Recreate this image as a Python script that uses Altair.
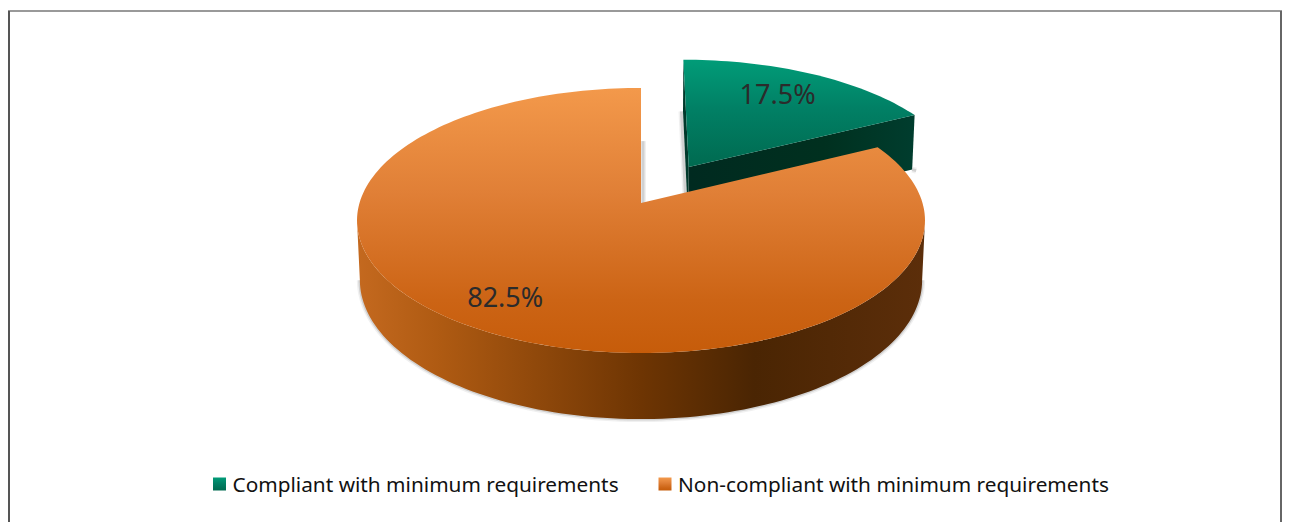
import math
import altair as alt
import pandas as pd

categories = ["Compliant with minimum requirements", "Non-compliant with minimum requirements"]
shares = [17.5, 82.5]
labels = ["17.5%", "82.5%"]
explode = [0.337, 0.0]

W, H = 1274, 514
OX, OY = 8, 8
FONT = "Noto Sans"
P = 0.132


def proj(u, v, z=0.0):
    w = 1 + P * v + 0.01 * z
    return 641 + 281.5 * u / w, 203 - (130.2 * v - 59.5 * z) / w


def angles(a0, a1, step=1.5):
    n = max(2, int(abs(a1 - a0) / step))
    return [a0 + (a1 - a0) * i / n for i in range(n + 1)]


def world(a, r=1.0, mid=0.0, d=0.0):
    t, m = math.radians(a), math.radians(mid)
    return d * math.sin(m) + r * math.sin(t), d * math.cos(m) + r * math.cos(t)


split = shares[0] * 3.6
g_mid, o_mid = split / 2, (split + 360) / 2
gd, od = explode
tangent = math.degrees(math.acos(-P))


def green(a, r=1.0):
    return world(a, r, g_mid, gd)


def orange(a, r=1.0):
    return world(a, r, o_mid, od)


def frame(pts):
    return pd.DataFrame([{"x": p[0], "y": p[1], "i": i} for i, p in enumerate(pts)])


xs = alt.Scale(domain=[OX, OX + W], nice=False, zero=False)
ys = alt.Scale(domain=[OY + H, OY], nice=False, zero=False)


def shape(pts, **mark):
    return alt.Chart(frame(pts)).mark_line(**mark).encode(
        x=alt.X("x:Q", scale=xs, axis=None),
        y=alt.Y("y:Q", scale=ys, axis=None),
        order=alt.Order("i:Q"),
    )


def vgrad(*stops):
    return alt.Gradient(gradient="linear", x1=0, x2=0, y1=0, y2=1,
                        stops=[alt.GradientStop(offset=o, color=c) for o, c in stops])


def hgrad(*stops):
    return alt.Gradient(gradient="linear", x1=0, x2=1, y1=0, y2=0,
                        stops=[alt.GradientStop(offset=o, color=c) for o, c in stops])


NOSTROKE = dict(strokeWidth=0)
ORANGE_TOP = vgrad((0, "#F3994B"), (0.4, "#E07F36"), (0.8, "#CC6415"), (1, "#C65C0A"))
GREEN_TOP = vgrad((0, "#019C78"), (0.45, "#018065"), (1, "#006A50"))

# ---- geometry derived from the shares
g_rim = [green(a) for a in angles(0, split)]
g_apex = green(0, 0)
g_top = [proj(*g_apex)] + [proj(*p) for p in g_rim]
g_front = [proj(*g_apex), proj(*g_rim[-1]), proj(*g_rim[-1], 1), proj(*g_apex, 1)]
g_left = [proj(*g_rim[0]), proj(*g_apex), proj(*g_apex, 1), proj(*g_rim[0], 1)]

o_rim = [orange(a) for a in angles(split, 360)]
o_apex = orange(0, 0)
o_top = [proj(*o_apex)] + [proj(*p) for p in o_rim]
wall_rim = [orange(a) for a in angles(tangent, 360 - tangent)]
o_wall = [proj(*p) for p in wall_rim] + [proj(*p, 1) for p in reversed(wall_rim)]

shadow_rim = [proj(*orange(a), 1) for a in angles(tangent, 360 - tangent)]
shadow_cut = [(proj(*orange(360), 1)[0] + 2, proj(*orange(360), 1)[1]), (proj(*o_apex)[0] + 2, proj(*o_apex)[1])]
shadow_g = [(proj(*g_rim[0], 1)[0] - 1.5, proj(*g_rim[0], 1)[1]), (proj(*g_apex, 1)[0] - 1.5, proj(*g_apex, 1)[1])]
shadow_c = [proj(*g_rim[-1], 1), (proj(*g_rim[-1], 1)[0] + 4, proj(*g_rim[-1], 1)[1] + 1)]

layers = []
for pts in (shadow_rim, shadow_cut, shadow_g, shadow_c):
    layers.append(shape(pts, stroke="#8c8c8c", strokeWidth=6, opacity=0.13))
    layers.append(shape(pts, stroke="#8c8c8c", strokeWidth=3, opacity=0.3))

layers += [
    shape(g_left, fill="#00392B", **NOSTROKE),
    shape(g_front, fill=hgrad((0, "#002A20"), (0.6, "#00301F"), (1, "#003D2E")), **NOSTROKE),
    shape(g_top, fill=GREEN_TOP, **NOSTROKE),
    shape(o_wall, fill=hgrad((0, "#C4691F"), (0.15, "#AE5A12"), (0.5, "#6E3503"),
                             (0.7, "#4A2503"), (1, "#5C2E0A")), **NOSTROKE),
    shape(o_top, fill=ORANGE_TOP, **NOSTROKE),
]

# ---- data labels
lab = []
for txt, p in zip(labels, (proj(*green(g_mid, 0.76)), proj(*orange(o_mid, 0.78)))):
    lab.append({"t": txt, "x": p[0], "y": p[1]})
for row, dx in zip(lab, (-7, -10)):
    layers.append(
        alt.Chart(pd.DataFrame([row])).mark_text(font=FONT, fontSize=27, color="#2B2B2B", dx=dx, dy=1.5).encode(
            x=alt.X("x:Q", scale=xs, axis=None), y=alt.Y("y:Q", scale=ys, axis=None), text="t:N"))

# ---- legend
legend_x = [219.5, 665]
legend_fill = [GREEN_TOP, ORANGE_TOP]
for name, lx, fill in zip(categories, legend_x, legend_fill):
    one = alt.Chart(pd.DataFrame({"t": [name]}))
    layers.append(one.mark_point(shape="square", filled=True, fill=fill, size=169, strokeWidth=0, opacity=1).encode(
        x=alt.value(lx - OX), y=alt.value(484 - OY)))
    layers.append(one.mark_text(font=FONT, fontSize=20.8, color="#111111", align="left", baseline="middle").encode(
        x=alt.value(lx + 13 - OX), y=alt.value(486 - OY), text="t:N"))

# ---- frame of the figure
dummy = alt.Chart(pd.DataFrame({"a": [0]}))
layers.append(dummy.mark_rule(color="#999999", strokeWidth=2).encode(
    x=alt.value(0), x2=alt.value(W), y=alt.value(3)))
layers.append(dummy.mark_rule(color="#555555", strokeWidth=2).encode(
    x=alt.value(1), y=alt.value(3), y2=alt.value(H)))
layers.append(dummy.mark_rule(color="#666666", strokeWidth=2).encode(
    x=alt.value(W - 1), y=alt.value(3), y2=alt.value(H)))

chart = alt.layer(*layers).properties(
    width=W, height=H, padding=0, autosize=alt.AutoSizeParams(type="none"), background="white"
).configure_view(stroke=None)

chart.save("out.html", embed_options={"renderer": "svg", "actions": False})
